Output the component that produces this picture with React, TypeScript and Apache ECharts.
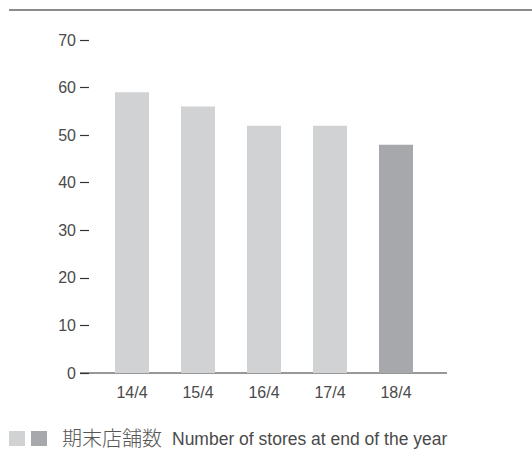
import React, { useEffect, useRef } from "react";
import * as echarts from "echarts";

const categories = ["14/4", "15/4", "16/4", "17/4", "18/4"];
const storeCounts = [59, 56, 52, 52, 48];
const yTicks = [0, 10, 20, 30, 40, 50, 60, 70];
const legendLabelJa = "期末店舗数";
const legendLabelEn = "Number of stores at end of the year";

const LIGHT = "#d1d2d4";
const DARK = "#a7a8ab";
const FONT = "'Liberation Sans', 'Noto Sans CJK JP', sans-serif";
const TEXT = "#4a4a4a";

export default function App() {
  const ref = useRef<HTMLDivElement>(null);
  useEffect(() => {
    const chart = echarts.init(ref.current!, null, { renderer: "svg" });
    chart.setOption({
      animation: false,
      backgroundColor: "#ffffff",
      grid: { left: 99, right: 103, top: 40, bottom: 79 },
      xAxis: {
        type: "category",
        data: categories,
        axisLine: { show: false },
        axisTick: { show: false },
        axisLabel: { color: TEXT, fontSize: 16, fontFamily: FONT, margin: 11 },
      },
      yAxis: {
        type: "value",
        min: yTicks[0],
        max: yTicks[yTicks.length - 1],
        interval: 10,
        offset: 10,
        axisLine: { show: false },
        axisTick: { show: true, length: 9, lineStyle: { color: "#333", width: 1.2 } },
        splitLine: { show: false },
        axisLabel: { color: TEXT, fontSize: 16, fontFamily: FONT, margin: 13 },
      },
      series: [
        {
          type: "bar",
          barWidth: 34,
          data: storeCounts.map((v, i) => ({
            value: v,
            itemStyle: { color: i === storeCounts.length - 1 ? DARK : LIGHT },
          })),
        },
      ],
      graphic: [
        { type: "line", shape: { x1: 9, y1: 10, x2: 532, y2: 10 }, style: { stroke: "#8c8c8c", lineWidth: 2 } },
        { type: "line", shape: { x1: 80, y1: 373, x2: 447, y2: 373 }, style: { stroke: "#333", lineWidth: 1.2 } },
        { type: "rect", shape: { x: 9, y: 431, width: 16, height: 15 }, style: { fill: LIGHT } },
        { type: "rect", shape: { x: 31, y: 431, width: 16, height: 15 }, style: { fill: DARK } },
        {
          type: "text",
          x: 62,
          y: 439,
          style: { text: legendLabelJa, fill: "#555", fontSize: 20, fontWeight: 300, fontFamily: FONT, verticalAlign: "middle" },
        },
        {
          type: "text",
          x: 172,
          y: 439,
          style: { text: legendLabelEn, fill: TEXT, fontSize: 17.5, fontFamily: FONT, verticalAlign: "middle" },
        },
      ],
    });
    return () => chart.dispose();
  }, []);
  return <div ref={ref} style={{ position: "fixed", left: 0, top: 0, width: 532, height: 452 }} />;
}
